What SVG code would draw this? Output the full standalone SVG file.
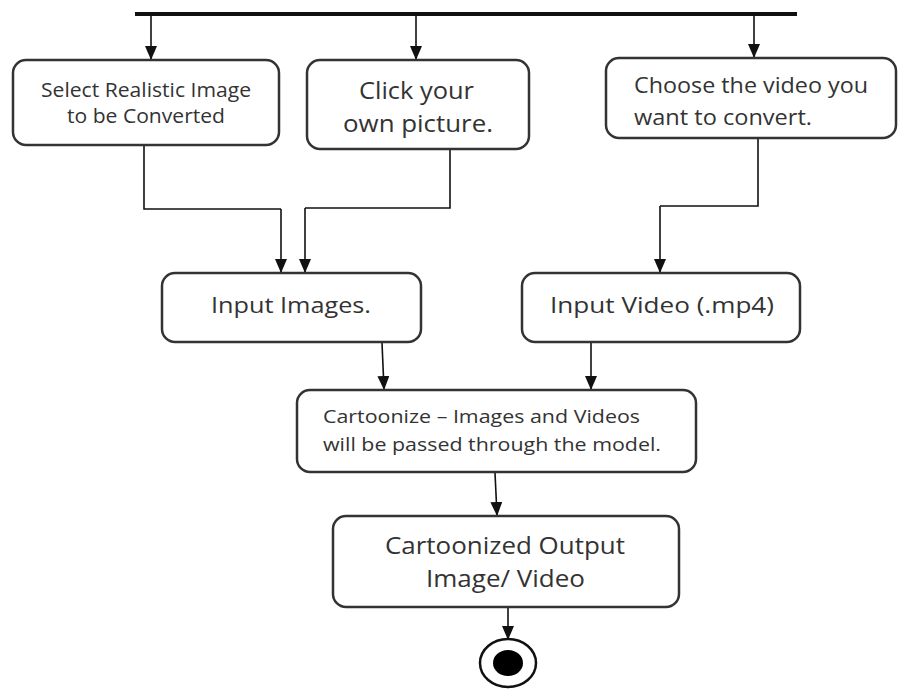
<svg xmlns="http://www.w3.org/2000/svg" width="898" height="689" viewBox="0 0 898 689">
<defs>
<marker id="ah" markerWidth="14" markerHeight="12" refX="13" refY="6" orient="auto" markerUnits="userSpaceOnUse" viewBox="0 0 14 12">
<path d="M0,0 L14,6 L0,12 Z" fill="#111"/>
</marker>
<style>
.box{fill:#fff;stroke:#333;stroke-width:2.5}
.t{font-family:"Open Sans","Liberation Sans",sans-serif;fill:#333}
.c{fill:none;stroke:#111;stroke-width:1.6}
.a{fill:none;stroke:#111;stroke-width:1.6;marker-end:url(#ah)}
</style>
</defs>
<rect width="898" height="689" fill="#fff"/>
<g id="forkbar"><rect x="135" y="12" width="662" height="4" fill="#111"/></g>
<g id="connectors">
<line class="a" x1="151" y1="16" x2="151" y2="59"/>
<line class="a" x1="416" y1="16" x2="416" y2="59"/>
<line class="a" x1="754" y1="16" x2="754" y2="57"/>
<path class="c" d="M144,146 V209 H281"/>
<line class="a" x1="281" y1="209" x2="281" y2="272"/>
<path class="c" d="M450,150 V208 H305"/>
<line class="a" x1="305" y1="208" x2="305" y2="272"/>
<path class="c" d="M758,139 V206 H660"/>
<line class="a" x1="660" y1="206" x2="660" y2="272"/>
<line class="a" x1="382" y1="343" x2="384" y2="389"/>
<line class="a" x1="591" y1="343" x2="591" y2="389"/>
<line class="a" x1="495" y1="473" x2="497" y2="515"/>
<line class="a" x1="508" y1="608" x2="508" y2="639"/>
</g>
<g id="n1">
<rect class="box" x="13" y="60" width="266" height="85" rx="13"/>
<text class="t" x="146" y="97" font-size="20" text-anchor="middle" textLength="210" lengthAdjust="spacingAndGlyphs">Select Realistic Image</text>
<text class="t" x="146" y="123" font-size="20" text-anchor="middle" textLength="158" lengthAdjust="spacingAndGlyphs">to be Converted</text>
</g>
<g id="n2">
<rect class="box" x="307" y="60" width="222" height="89" rx="13"/>
<text class="t" x="416.5" y="99" font-size="23" text-anchor="middle" textLength="115" lengthAdjust="spacingAndGlyphs">Click your</text>
<text class="t" x="418" y="132" font-size="23" text-anchor="middle" textLength="150" lengthAdjust="spacingAndGlyphs">own picture.</text>
</g>
<g id="n3">
<rect class="box" x="606" y="58" width="290" height="80" rx="13"/>
<text class="t" x="634" y="93" font-size="21" textLength="234" lengthAdjust="spacingAndGlyphs">Choose the video you</text>
<text class="t" x="634" y="125" font-size="21" textLength="178" lengthAdjust="spacingAndGlyphs">want to convert.</text>
</g>
<g id="n4">
<rect class="box" x="162" y="273" width="259" height="69" rx="13"/>
<text class="t" x="291" y="313" font-size="22" text-anchor="middle" textLength="160" lengthAdjust="spacingAndGlyphs">Input Images.</text>
</g>
<g id="n5">
<rect class="box" x="522" y="273" width="278" height="69" rx="13"/>
<text class="t" x="662" y="313" font-size="22" text-anchor="middle" textLength="224" lengthAdjust="spacingAndGlyphs">Input Video (.mp4)</text>
</g>
<g id="n6">
<rect class="box" x="297" y="390" width="399" height="82" rx="13"/>
<text class="t" x="323" y="423" font-size="19" textLength="317" lengthAdjust="spacingAndGlyphs">Cartoonize – Images and Videos</text>
<text class="t" x="323" y="451" font-size="19" textLength="338" lengthAdjust="spacingAndGlyphs">will be passed through the model.</text>
</g>
<g id="n7">
<rect class="box" x="333" y="516" width="346" height="91" rx="13"/>
<text class="t" x="505" y="554" font-size="23" text-anchor="middle" textLength="240" lengthAdjust="spacingAndGlyphs">Cartoonized Output</text>
<text class="t" x="505.5" y="587" font-size="23" text-anchor="middle" textLength="159" lengthAdjust="spacingAndGlyphs">Image/ Video</text>
</g>
<g id="end">
<ellipse cx="508" cy="663" rx="28" ry="24" fill="#fff" stroke="#111" stroke-width="2.5"/>
<ellipse cx="508" cy="663" rx="15" ry="13" fill="#000"/>
</g>
</svg>
